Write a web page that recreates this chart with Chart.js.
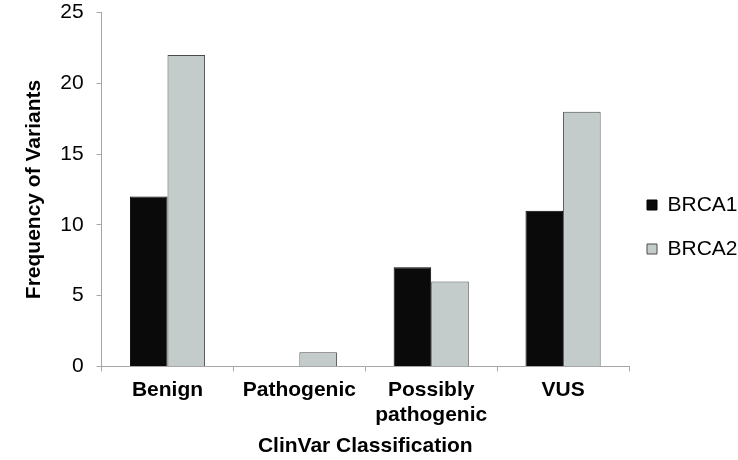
<!DOCTYPE html>
<html>
<head>
<meta charset="utf-8">
<script src="https://cdn.jsdelivr.net/npm/chart.js@4"></script>
<style>
  html, body { margin: 0; padding: 0; background: #fff; }
  #wrap { width: 738px; height: 460px; }
</style>
</head>
<body>
<div id="wrap"><canvas id="chart"></canvas></div>
<script>
// Datos
const categories = ['Benign', 'Pathogenic', ['Possibly', 'pathogenic'], 'VUS']
const brca1 = [12, 0, 7, 11]
const brca2 = [22, 1, 6, 18]
const yTicks = [0, 5, 10, 15, 20, 25]

const FONT = "'Liberation Sans', Arial, sans-serif"
const axisGray = '#a6a6a6'

const ctx = document.getElementById('chart')

new Chart(ctx, {
  type: 'bar',
  data: {
    labels: categories,
    datasets: [
      {
        label: 'BRCA1',
        data: brca1,
        backgroundColor: '#0a0a0a',
        borderColor: '#000000',
        borderWidth: 1
      },
      {
        label: 'BRCA2',
        data: brca2,
        backgroundColor: '#c3cccb',
        borderColor: '#4a4a4a',
        borderWidth: 1
      }
    ]
  },
  options: {
    responsive: true,
    maintainAspectRatio: false,
    animation: false,
    categoryPercentage: 0.57,
    barPercentage: 1.0,
    layout: {
      padding: { left: 10, right: 0, top: 0, bottom: 1 }
    },
    plugins: {
      tooltip: { enabled: false },
      legend: {
        position: 'right',
        align: 'center',
        maxWidth: 109,
        labels: {
          boxWidth: 10,
          boxHeight: 10,
          padding: 18,
          color: '#000',
          font: { family: FONT, size: 21, lineHeight: '26px' },
          // texto como arreglo para que el alto del item use lineHeight
          generateLabels: chart =>
            Chart.defaults.plugins.legend.labels.generateLabels(chart).map(l => ({ ...l, text: [l.text] }))
        }
      }
    },
    scales: {
      x: {
        grid: {
          display: true,
          offset: true,
          drawOnChartArea: false,
          drawTicks: true,
          tickLength: 5,
          color: axisGray
        },
        border: { display: true, color: axisGray, width: 1 },
        ticks: {
          color: '#000',
          padding: 6,
          maxRotation: 0,
          autoSkip: false,
          font: { family: FONT, size: 21, weight: 'bold' }
        },
        title: {
          display: true,
          text: 'ClinVar Classification',
          color: '#000',
          padding: { top: 0, bottom: 0 },
          font: { family: FONT, size: 21, weight: 'bold' }
        }
      },
      y: {
        min: 0,
        max: 25,
        afterBuildTicks: axis => {
          axis.ticks = yTicks.map(v => ({ value: v }))
        },
        grid: {
          display: true,
          drawOnChartArea: false,
          drawTicks: true,
          // marca larga con guion: solo se ven los 5px junto al eje
          tickLength: 18,
          tickBorderDash: [0, 13, 5, 0],
          color: axisGray
        },
        border: { display: true, color: axisGray, width: 1 },
        ticks: {
          color: '#000',
          padding: 0,
          font: { family: FONT, size: 21 }
        },
        title: {
          display: true,
          text: 'Frequency of Variants',
          color: '#000',
          padding: { top: 12, bottom: 13 },
          font: { family: FONT, size: 21, weight: 'bold' }
        }
      }
    }
  }
})
</script>
</body>
</html>
